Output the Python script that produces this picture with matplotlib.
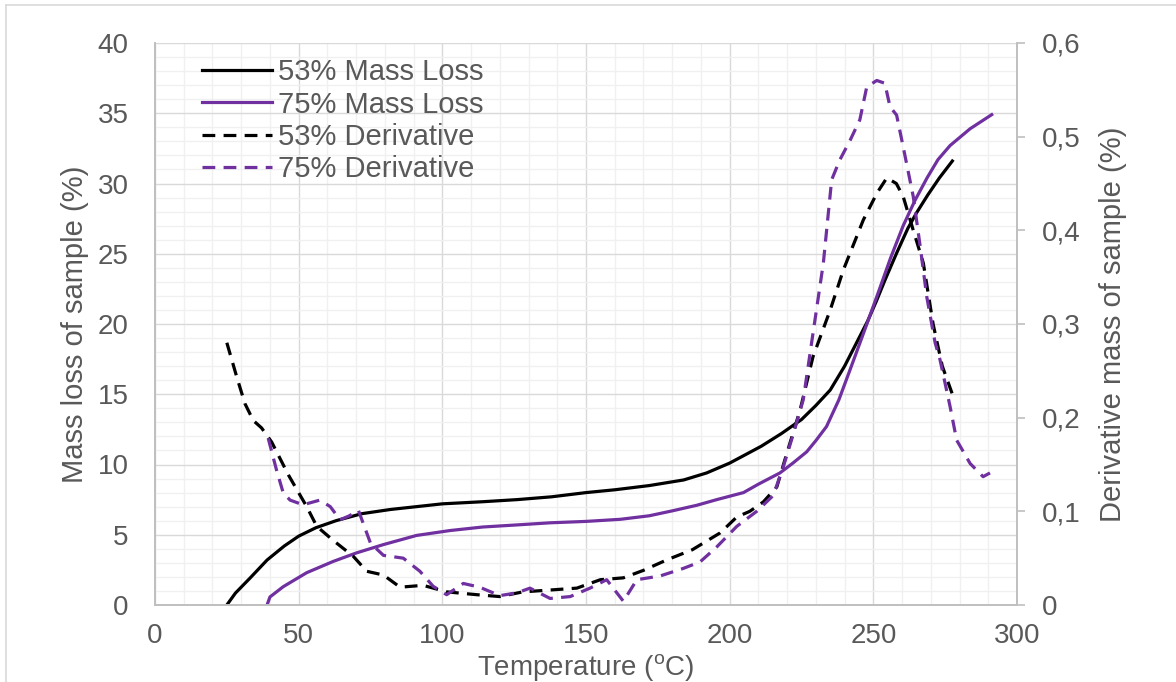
import numpy as np
import matplotlib.pyplot as plt
from matplotlib.lines import Line2D
from matplotlib.ticker import MultipleLocator, FuncFormatter

plt.rcParams['font.family'] = ['Liberation Sans', 'DejaVu Sans']
plt.rcParams['mathtext.fontset'] = 'custom'
plt.rcParams['mathtext.rm'] = 'Liberation Sans'

# 53% sample, mass loss (%)
t_ml53 = [25, 28, 33, 39, 45, 50, 56, 63, 72, 82, 91, 100, 114, 126, 138, 150,
          160, 172, 184, 192, 200, 211, 218, 225, 230, 235, 240, 244, 248, 251, 254,
          258, 262, 265, 269, 273, 277.5]
ml53 = [0, 0.85, 1.9, 3.2, 4.2, 4.9, 5.5, 6.0, 6.5, 6.8, 7.0, 7.2, 7.35, 7.5, 7.7, 8.0,
        8.2, 8.5, 8.9, 9.4, 10.1, 11.3, 12.2, 13.2, 14.2, 15.3, 17.0, 18.6, 20.2, 21.6, 23.1,
        25.0, 26.8, 27.9, 29.2, 30.4, 31.6]

# 75% sample, mass loss (%)
t_ml75 = [39, 40, 44.6, 52.8, 62, 70, 79.5, 91, 102.7, 114, 126, 137.5, 150, 162, 172,
          180, 188.6, 195.5, 204.8, 210, 217.5, 222, 226.8, 230, 233.7, 238, 242, 246.5,
          251.3, 256, 260.4, 264.5, 268.7, 272.5, 276.7, 283.7, 291.2]
ml75 = [0, 0.57, 1.3, 2.3, 3.1, 3.7, 4.3, 4.95, 5.3, 5.55, 5.7, 5.85, 5.95, 6.1, 6.35,
        6.7, 7.1, 7.5, 8.0, 8.6, 9.4, 10.1, 10.9, 11.7, 12.7, 14.6, 16.8, 19.3,
        22.0, 24.7, 27.0, 28.8, 30.4, 31.7, 32.7, 33.9, 34.9]

# 53% sample, derivative (%)
t_d53 = [25, 28.4, 31.3, 34.2, 37.1, 40.6, 46.4, 52.8, 56.3, 62, 69, 73.7, 79.5, 85.3,
         93.3, 101.6, 112, 120, 128, 137.5, 146.8, 155, 163, 170, 178, 187, 196.7, 202.5,
         207, 211.7, 216.4, 219.9, 224.5, 229, 235, 239.6, 246.5, 251.3, 254.7, 258,
         260.4, 263.9, 267.4, 270.8, 274, 277.4]
d53 = [0.28, 0.244, 0.215, 0.197, 0.189, 0.174, 0.139, 0.105, 0.084, 0.069, 0.052, 0.036,
       0.032, 0.019, 0.021, 0.014, 0.011, 0.009, 0.014, 0.016, 0.018, 0.027, 0.029, 0.037,
       0.048, 0.059, 0.077, 0.094, 0.100, 0.110, 0.126, 0.162, 0.208, 0.265, 0.315, 0.358,
       0.411, 0.44, 0.456, 0.45, 0.436, 0.40, 0.365, 0.30, 0.255, 0.226]

# 75% sample, derivative (%)
t_d75 = [39.4, 42.3, 44.6, 47, 51.5, 57.4, 61, 64.4, 67.5, 70.8, 75, 79.5, 86.4, 92.2,
         96.8, 101.5, 107.3, 113, 120, 126, 130.5, 137.5, 144.5, 151.4, 157.2, 163, 167.7,
         175.8, 183.8, 189.7, 195.5, 202.5, 209.4, 215.2, 218.7, 222.2, 225.6, 229, 232.6,
         235.5, 238.3, 241.9, 245.3, 247.7, 251.2, 254, 255.8, 258.1, 260.4, 263.9, 266.3,
         268.6, 271.5, 273.2, 276.7, 279, 283.7, 288.2, 290.6]
d75 = [0.178, 0.144, 0.12, 0.112, 0.107, 0.112, 0.105, 0.091, 0.095, 0.101, 0.066, 0.053,
       0.050, 0.036, 0.020, 0.011, 0.023, 0.019, 0.010, 0.013, 0.018, 0.007, 0.009, 0.018,
       0.027, 0.004, 0.027, 0.031, 0.039, 0.046, 0.062, 0.084, 0.100, 0.117, 0.148, 0.183,
       0.219, 0.29, 0.365, 0.454, 0.475, 0.496, 0.518, 0.553, 0.56, 0.557, 0.532, 0.523,
       0.489, 0.436, 0.383, 0.329, 0.28, 0.262, 0.212, 0.176, 0.151, 0.137, 0.141]

PURPLE = '#7030a0'
TXT = '#595959'
SPINE = '#bfbfbf'

fig = plt.figure(figsize=(11.76, 6.82), dpi=100)
ax = fig.add_axes([155 / 1176, 77 / 682, 862 / 1176, 562 / 682])
ax2 = ax.twinx()

ax.set_xlim(0, 300)
ax.set_ylim(0, 40)
ax2.set_ylim(0, 0.6)

ax.xaxis.set_major_locator(MultipleLocator(50))
ax.xaxis.set_minor_locator(MultipleLocator(10))
ax.yaxis.set_major_locator(MultipleLocator(5))
ax.yaxis.set_minor_locator(MultipleLocator(1))
ax2.yaxis.set_major_locator(MultipleLocator(0.1))
ax2.yaxis.set_major_formatter(FuncFormatter(
    lambda v, p: '0' if abs(v) < 1e-9 else f'{v:.1f}'.replace('.', ',')))

ax.grid(True, which='major', color='#d9d9d9', lw=1.0, zorder=0)
ax.grid(True, which='minor', color='#f0f0f0', lw=1.0, zorder=0)
ax.set_axisbelow(True)

lw = 2.3
l1, = ax.plot(t_ml53, ml53, color='black', lw=lw, label='53% Mass Loss')
l2, = ax.plot(t_ml75, ml75, color=PURPLE, lw=lw, label='75% Mass Loss')
l3, = ax2.plot(t_d53, d53, color='black', lw=lw, ls=(0, (4, 2.6)), label='53% Derivative')
l4, = ax2.plot(t_d75, d75, color=PURPLE, lw=lw, ls=(0, (4, 2.6)), label='75% Derivative')

for a in (ax, ax2):
    for s in a.spines.values():
        s.set_color(SPINE)
        s.set_linewidth(1.2)
    a.spines['top'].set_visible(False)

ax.tick_params(axis='both', which='both', length=0, colors=TXT, labelsize=20)
ax.tick_params(axis='x', pad=13)
ax.tick_params(axis='y', pad=19)
ax2.tick_params(axis='y', which='major', length=6, width=1.2, color=SPINE,
                labelcolor=TXT, labelsize=20, pad=12)
ax2.tick_params(axis='y', which='minor', length=0)

ax.set_xlabel(r'Temperature ($^{\mathrm{o}}$C)', fontsize=20, color=TXT, va='center')
ax.xaxis.set_label_coords(0.5, -0.112)
ax.set_ylabel('Mass loss of sample (%)', fontsize=21, color=TXT, va='center')
ax.yaxis.set_label_coords(-0.093, 0.5)
ax2.set_ylabel('Derivative mass of sample (%)', fontsize=21, color=TXT, va='center')
ax2.yaxis.set_label_coords(1.111, 0.5)

leg = ax2.legend(handles=[l1, l2, l3, l4], loc='upper left', bbox_to_anchor=(0.0545, 0.973),
                 frameon=False, fontsize=21, handlelength=2.4, handletextpad=0.2,
                 labelspacing=0.15, borderpad=0, borderaxespad=0)
for t in leg.get_texts():
    t.set_color(TXT)

# light outer chart border
fig.add_artist(Line2D([6 / 1176, 1], [1 - 5 / 682] * 2, transform=fig.transFigure,
                      color='#d9d9d9', lw=1.2))
fig.add_artist(Line2D([6 / 1176] * 2, [0, 1 - 5 / 682], transform=fig.transFigure,
                      color='#d9d9d9', lw=1.2))

fig.savefig('out.png', dpi=100)
